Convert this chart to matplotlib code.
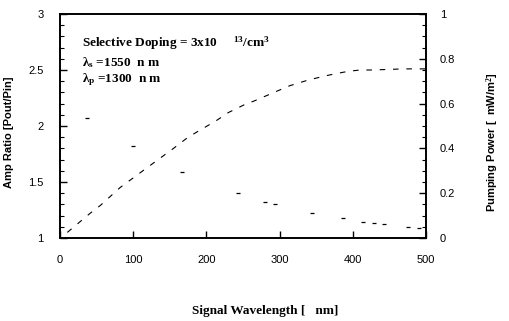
import numpy as np
import matplotlib.pyplot as plt
from matplotlib.ticker import MultipleLocator

plt.rcParams['mathtext.fontset'] = 'custom'
plt.rcParams['mathtext.rm'] = 'Liberation Serif:bold'
plt.rcParams['mathtext.it'] = 'Liberation Serif:bold'
plt.rcParams['mathtext.bf'] = 'Liberation Serif:bold'
plt.rcParams['mathtext.default'] = 'rm'

# amp ratio curve (left axis)
wl_amp = [10, 41, 55, 82, 134, 153, 175, 214, 230, 255, 264, 296, 314, 339, 364, 387, 396, 410, 426, 470, 500]
amp = [1.05, 1.22, 1.29, 1.45, 1.70, 1.79, 1.90, 2.05, 2.12, 2.20, 2.22, 2.31, 2.36, 2.41, 2.45, 2.48, 2.49, 2.50, 2.50, 2.51, 2.51]

# pumping power (right axis)
wl_pow = [37, 100, 166, 243, 280, 294, 344, 387, 414, 429, 443, 475, 490]
power = [0.535, 0.41, 0.295, 0.20, 0.16, 0.15, 0.11, 0.09, 0.07, 0.065, 0.0625, 0.05, 0.045]

W, H = 510, 321
fig = plt.figure(figsize=(W / 100, H / 100), dpi=100)
ax = fig.add_axes([60 / W, (H - 238) / H, 366 / W, 224 / H])
ax2 = ax.twinx()

ax.plot(wl_amp, amp, color='black', lw=0.8, linestyle=(0, (5, 7)))
ax2.plot(wl_pow, power, color='black', lw=0, marker='_', markersize=3.5, markeredgewidth=0.9)

ax.set_xlim(0, 500)
ax.set_ylim(1, 3)
ax2.set_ylim(0, 1)

ax.xaxis.set_major_locator(MultipleLocator(100))
ax.yaxis.set_major_locator(MultipleLocator(0.5))
ax.yaxis.set_minor_locator(MultipleLocator(0.1))
ax2.yaxis.set_major_locator(MultipleLocator(0.2))
ax2.yaxis.set_minor_locator(MultipleLocator(0.05))

tick_font = dict(family='Liberation Sans', size=8)
ax.set_xticks([0, 100, 200, 300, 400, 500])
ax.set_xticklabels(['0', '100', '200', '300', '400', '500'], **tick_font)
ax.set_yticks([1, 1.5, 2, 2.5, 3])
ax.set_yticklabels(['1', '1.5', '2', '2.5', '3'], **tick_font)
ax2.set_yticks([0, 0.2, 0.4, 0.6, 0.8, 1])
ax2.set_yticklabels(['0', '0.2', '0.4', '0.6', '0.8', '1'], **tick_font)

ax.tick_params(axis='both', which='major', direction='in', length=5, width=1, pad=12, colors='black')
ax.tick_params(axis='y', which='minor', direction='in', length=3, width=0.8)
ax2.tick_params(axis='y', which='major', direction='in', length=5, width=1, pad=10)
ax2.tick_params(axis='y', which='minor', direction='in', length=3, width=0.8)

for a in (ax, ax2):
    for s in a.spines.values():
        s.set_linewidth(1.2)
        s.set_color('black')

ax.set_xlabel('Signal Wavelength [   nm]', family='Liberation Serif', weight='bold', size=9.5)
ax.xaxis.set_label_coords(0.56, -0.3)
ax.set_ylabel('Amp Ratio [Pout/Pin]', family='Liberation Sans', weight='bold', size=8)
ax.yaxis.set_label_coords(-0.125, 0.47)
ax2.set_ylabel('Pumping Power [  mW/m$^{2}$]', family='Liberation Sans', weight='bold', size=8)
ax2.yaxis.set_label_coords(1.16, 0.43)

txt = dict(family='Liberation Serif', weight='bold', size=9.5, transform=ax.transAxes, va='center', ha='left')
ax.text(0.06, 0.87, 'Selective Doping = 3x10     $^{13}$/cm$^{3}$', **txt)
ax.text(0.06, 0.785, '\u03bb$_{s}$ =1550  n m', **txt)
ax.text(0.06, 0.705, '\u03bb$_{p}$ =1300  n m', **txt)

fig.savefig('out.png', dpi=100)
